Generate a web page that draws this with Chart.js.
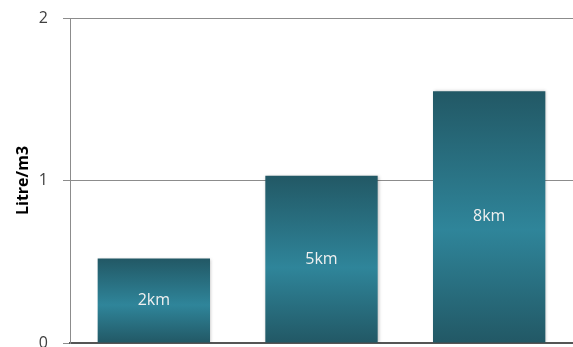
<!DOCTYPE html>
<html>
<head>
<meta charset="utf-8">
<script src="https://cdn.jsdelivr.net/npm/chart.js@4/dist/chart.umd.min.js"></script>
<style>
  html, body { margin: 0; padding: 0; background: #fff; }
  #wrap { width: 573px; height: 347px; }
</style>
</head>
<body>
<div id="wrap"><canvas id="chart"></canvas></div>
<script>
const categories = ["2km", "5km", "8km"];
const values = [0.52, 1.03, 1.55];
const yTicks = [0, 1, 2];
const yTitle = "Litre/m3";

// vertical gradient per bar: dark top, light middle, dark bottom
function barFill(context) {
  const y = context.chart.scales.y;
  if (!y || !context.chart.chartArea) return "#2b7589";
  const top = y.getPixelForValue(values[context.dataIndex]);
  const base = y.getPixelForValue(0);
  if (!isFinite(top) || !isFinite(base) || top === base) return "#2b7589";
  const g = context.chart.ctx.createLinearGradient(0, top, 0, base);
  g.addColorStop(0, "#225865");
  g.addColorStop(0.55, "#2f859a");
  g.addColorStop(1, "#225865");
  return g;
}

// labels inside the bars
const barLabels = {
  id: "barLabels",
  afterDatasetsDraw(chart) {
    const ctx = chart.ctx;
    const meta = chart.getDatasetMeta(0);
    ctx.save();
    ctx.fillStyle = "#f0f0f0";
    ctx.font = "16px 'Open Sans', sans-serif";
    ctx.textAlign = "center";
    ctx.textBaseline = "middle";
    meta.data.forEach((bar, i) => {
      ctx.fillText(categories[i], bar.x, (bar.y + bar.base) / 2);
    });
    ctx.restore();
  }
};

// soft shadow under bars
const barShadow = {
  id: "barShadow",
  beforeDatasetsDraw(chart) {
    chart.ctx.save();
    chart.ctx.shadowColor = "rgba(0,0,0,0.25)";
    chart.ctx.shadowBlur = 3;
    chart.ctx.shadowOffsetX = 1;
  },
  afterDatasetsDraw(chart) {
    chart.ctx.restore();
  }
};

new Chart(document.getElementById("chart"), {
  type: "bar",
  data: {
    labels: categories,
    datasets: [{
      data: values,
      backgroundColor: barFill,
      categoryPercentage: 1,
      barPercentage: 0.67
    }]
  },
  options: {
    responsive: true,
    maintainAspectRatio: false,
    animation: false,
    layout: { padding: { top: 18, right: 0, bottom: 4, left: 0 } },
    plugins: {
      legend: { display: false },
      tooltip: { enabled: false }
    },
    scales: {
      x: {
        ticks: { display: false },
        grid: { display: false, drawTicks: false },
        border: { display: true, color: "#555", width: 2 }
      },
      y: {
        min: 0,
        max: 2,
        afterBuildTicks(axis) { axis.ticks = yTicks.map(v => ({ value: v })); },
        afterFit(axis) {
          axis.width = 70;
          axis.paddingTop = 0;
          axis.paddingBottom = 0;
        },
        ticks: {
          color: "#404040",
          font: { size: 16, family: "'Open Sans', sans-serif" },
          padding: 15
        },
        grid: { color: "#8c8c8c", lineWidth: 1, tickLength: 7, drawTicks: true },
        border: { display: true, color: "#8c8c8c", width: 1 },
        title: {
          display: true,
          text: yTitle,
          color: "#000",
          font: { size: 16, weight: "bold", family: "'Open Sans', sans-serif" },
          padding: { top: 14, bottom: 4 }
        }
      }
    }
  },
  plugins: [barShadow, barLabels]
});
</script>
</body>
</html>
